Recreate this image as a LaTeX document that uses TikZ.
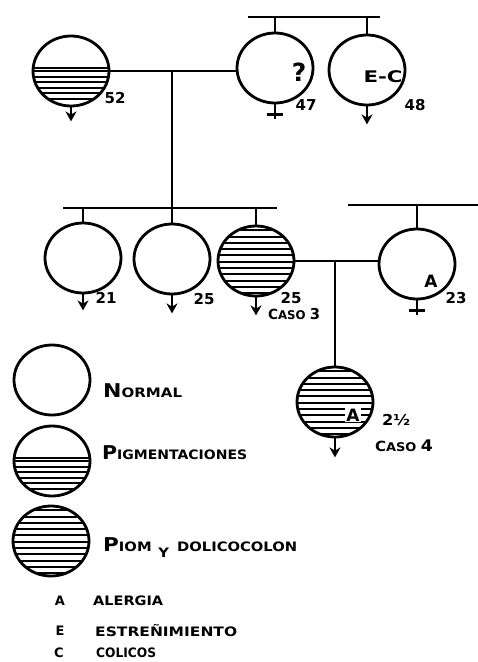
\documentclass[tikz,border=0pt]{standalone}
\usepackage{fontspec}
\usepackage{graphicx}
\usetikzlibrary{shapes.geometric,arrows.meta,calc}
\newfontfamily\hand{DejaVu Sans Bold}
% hand-lettered caps: one large initial, the rest smaller
\newcommand\hbig[1]{{\fontsize{19}{19}\selectfont #1}}
\newcommand\hsml[1]{{\fontsize{13}{13}\selectfont #1}}
% stretch a label to a given width, keeping its height
\newcommand\hw[2]{\resizebox{#1}{\height}{#2}}
\tikzset{
  ink/.style={line width=2.8pt, black},
  person/.style={ellipse, draw, ink, minimum width=76pt, minimum height=70pt, inner sep=0pt},
  hatchln/.style={line width=2pt, black},
  fullhatch/.style={path picture={
      \foreach \t in {0.06,0.15,...,0.96}
        \draw[hatchln] ($(path picture bounding box.north west)!\t!(path picture bounding box.south west)$) -- ++(90,0);}},
  halfhatch/.style={path picture={
      \foreach \t in {0.46,0.50,0.58,...,0.96}
        \draw[hatchln] ($(path picture bounding box.north west)!\t!(path picture bounding box.south west)$) -- ++(90,0);}},
  male/.style={ink, -{Stealth[length=10pt,width=11pt]}},
  lab/.style={font=\hand, inner sep=0pt, text=black},
  num/.style={lab, font=\hand\fontsize{15}{15}\selectfont},
}
\begin{document}
\begin{tikzpicture}[x=1pt,y=-1pt]
\useasboundingbox[fill=white] (0,0) rectangle (478,662);

% first generation
\node[person, halfhatch] (p52) at (71,71) {};
\node[person] (p47) at (275,68) {};
\node[person] (p48) at (367,70) {};
% second generation
\node[person] (c21) at (83,258) {};
\node[person] (c25) at (172,259) {};
\node[person, fullhatch] (c3) at (256,261) {};
\node[person] (pA) at (417,264) {};
% third generation
\node[person, fullhatch] (c4) at (335,402) {};
% legend symbols
\node[person] (leg1) at (52,380) {};
\node[person, halfhatch] (leg2) at (52,461) {};
\node[person, fullhatch] (leg3) at (51,541) {};

% sibship of 47 and 48
\coordinate (t1l) at (248,17);
\coordinate (t1r) at (380,17);
\draw[ink] (t1l) -- (t1r);
\draw[ink] (p47.north) -- (p47.north |- t1l);
\draw[ink] (p48.north) -- (p48.north |- t1l);

% marriage 52 x 47 and its children
\draw[ink] (p52.east) -- (p52.east -| p47.west);
\coordinate (m1) at (172,71);
\coordinate (s1l) at (63,208);
\coordinate (s1r) at (277,208);
\draw[ink] (m1) -- (c25.north);
\draw[ink] (s1l) -- (s1r);
\draw[ink] (c21.north) -- (c21.north |- s1l);
\draw[ink] (c3.north) -- (c3.north |- s1l);

% sibship line of the spouse on the right
\coordinate (r1l) at (348,205);
\coordinate (r1r) at (478,205);
\draw[ink] (r1l) -- (r1r);
\draw[ink] (pA.north) -- (pA.north |- r1l);

% marriage caso 3 x 23 and their child
\draw[ink] (c3.east) -- (c3.east -| pA.west);
\coordinate (m2) at (335,261);
\draw[ink] (m2) -- (c4.north);

% sex symbols below the circles
\draw[male] (p52.south) -- ++(0,14);
\draw[male] (p48.south) -- ++(0,18);
\draw[male] (c21.south) -- ++(0,16);
\draw[male] (c25.south) -- ++(0,18);
\draw[male] (c3.south) -- ++(0,18);
\draw[male] (c4.south) -- ++(0,19);
\draw[ink] (p47.south) -- ++(0,15);
\draw[ink] ([shift={(-8,10)}]p47.south) -- ++(16,0);
\draw[ink] (pA.south) -- ++(0,15);
\draw[ink] ([shift={(-8,10)}]pA.south) -- ++(16,0);

% marks inside the circles
\node[lab, font=\hand\fontsize{25}{25}\selectfont] (q47) at (299,72) {?};
\node[lab, font=\hand\fontsize{16}{16}\selectfont] (ec48) at (383,77) {\hw{39pt}{E-C}};
\node[lab, font=\hand\fontsize{17}{17}\selectfont] (aA) at (431,281) {A};
\node[lab, font=\hand\fontsize{17}{17}\selectfont, fill=white, inner sep=1pt] (a4) at (353,415) {A};

% ages and case numbers
\node[num] (n52) at (115,98) {52};
\node[num] (n47) at (306,105) {47};
\node[num] (n48) at (415,105) {48};
\node[num] (n21) at (106,298) {21};
\node[num] (n25a) at (204,299) {25};
\node[num] (n25b) at (291,298) {25};
\node[num] (n23) at (456,298) {23};
\node[lab] (caso3) at (294,314) {\hw{52pt}{{\fontsize{14}{14}\selectfont C}{\fontsize{12}{12}\selectfont ASO }{\fontsize{15}{15}\selectfont 3}}};
\node[num] (age4) at (396,420) {\hw{28pt}{2½}};
\node[lab] (caso4) at (404,446) {\hw{58pt}{{\fontsize{14}{14}\selectfont C}{\fontsize{12}{12}\selectfont ASO }{\fontsize{16}{16}\selectfont 4}}};

% legend texts
\node[lab, anchor=west] (t1) at (103,391) {\hw{79pt}{\hbig{N}\hsml{ORMAL}}};
\node[lab, anchor=west] (t2) at (102,453) {\hw{145pt}{\hbig{P}\hsml{IGMENTACIONES}}};
\node[lab, anchor=west] (t3) at (103,548) {\hw{194pt}{\hbig{P}\hsml{IOM}\hspace{6pt}\raisebox{-6pt}{\hsml{Y}}\hspace{7pt}\hsml{DOLICOCOLON}}};
\node[lab] (kA) at (60,601) {\hsml{A}};
\node[lab, anchor=west] (dA) at (93,601) {\hw{70pt}{\hsml{ALERGIA}}};
\node[lab] (kE) at (60,631) {\hsml{E}};
\node[lab, anchor=west] (dE) at (95,631) {\hw{142pt}{\hsml{ESTREÑIMIENTO}}};
\node[lab] (kC) at (59,653) {\hsml{C}};
\node[lab, anchor=west] (dC) at (96,653) {\hw{60pt}{\hsml{COLICOS}}};
\end{tikzpicture}
\end{document}
